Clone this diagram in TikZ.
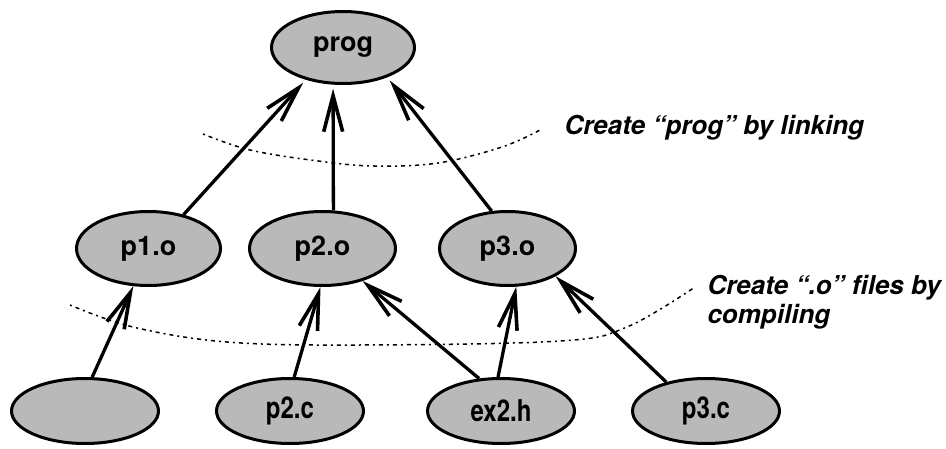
\documentclass[tikz,border=0pt]{standalone}
\usepackage{graphicx}
\usepackage{fontspec}
\setmainfont{TeX Gyre Heros}
\usetikzlibrary{shapes.geometric,arrows.meta}
\definecolor{nodegray}{RGB}{185,185,185}
\begin{document}
\begin{tikzpicture}[x=1pt,y=-1pt,
  fnode/.style={ellipse, draw, line width=3pt, fill=nodegray, inner sep=0pt,
    font=\fontsize{27}{27}\selectfont\bfseries},
  bnode/.style={fnode, minimum width=147pt, minimum height=65pt,
    font=\fontsize{30}{30}\selectfont\bfseries},
  link/.style={line width=3.3pt, -{Straight Barb[length=36pt,width=19pt,line width=3.6pt]}},
  guide/.style={line width=1.5pt, dash pattern=on 2pt off 4pt on 4pt off 4pt},
  note/.style={font=\fontsize{26}{29}\selectfont\bfseries\itshape, anchor=west, align=left}
]
\useasboundingbox (0,0) rectangle (946,449);

\node[fnode, minimum width=143pt, minimum height=72pt] (prog) at (343,47.5) {prog};
\node[fnode, minimum width=144pt, minimum height=74pt] (p1o) at (148.5,248.5) {p1.o};
\node[fnode, minimum width=146pt, minimum height=74pt] (p2o) at (322.5,248.5) {p2.o};
\node[fnode, minimum width=136pt, minimum height=74pt] (p3o) at (507.5,248.5) {p3.o};
\node[bnode] (blank) at (85,411) {};
\node[bnode] (p2c) at (290,411) {\scalebox{0.8}[1]{p2.c}};
\node[bnode] (ex2h) at (501,411) {\scalebox{0.8}[1]{ex2.h}};
\node[bnode] (p3c) at (706,411) {\scalebox{0.8}[1]{p3.c}};

\draw[link, shorten >=4pt] (p1o.44) -- (prog.221);
\draw[link, shorten >=4pt] (p2o.74) -- (prog.255);
\draw[link, shorten >=4pt] (p3o.113) -- (prog.326);
\draw[link] (blank.78) -- (p1o.248);
\draw[link] (p2c.83) -- (p2o.267);
\draw[link] (ex2h.124) -- (p2o.321);
\draw[link] (ex2h.95) -- (p3o.283);
\draw[link] (p3c.144) -- (p3o.330);

\draw[guide] plot[smooth, tension=0.6] coordinates
  {(203,134) (250,150) (318,161) (374,166) (438,163) (502,147) (540,130)};
\draw[guide] plot[smooth, tension=0.6] coordinates
  {(70,305) (133,327) (227,342) (360,345) (560,341) (627,327) (695,287)};

\node[note] (t1) at (561,128) {Create “prog” by linking};
\node[note] (t2) at (704,302.5) {Create “.o” files by\\compiling};
\end{tikzpicture}
\end{document}
